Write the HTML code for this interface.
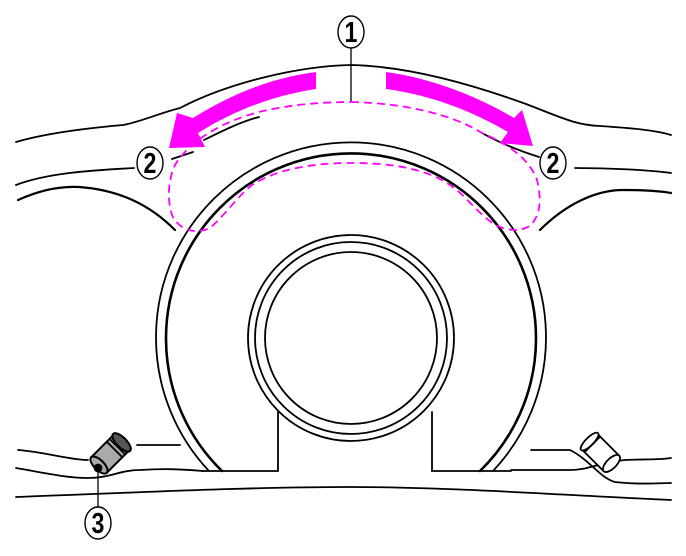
<!DOCTYPE html>
<html><head><style>html,body{margin:0;padding:0;background:#fff}svg{display:block}</style></head><body>
<svg width="686" height="556" viewBox="0 0 686 556" xmlns="http://www.w3.org/2000/svg">
<g fill="none" stroke="#000" stroke-width="1.8" stroke-linecap="round">
<path d="M16,142 C50,132 100,127 123,125 C140,122 160,113 180,108 C230,82 300,66 351,65 C400,66 460,80 526,104 C560,117 575,125 600,126 C630,128 655,130 671,135"/>
<path d="M16,185 C50,172 100,170 134,168"/>
<path d="M172,159 L193,152"/>
<path d="M204,140 C220,132 240,122 259,117"/>
<path d="M482,133 C500,143 520,151 539,157"/>
<path d="M575,168 C610,168 650,170 671,173"/>
<path d="M18,200 C40,190 60,186 79,187 C120,190 150,205 175,230" stroke-width="2.2"/>
<path d="M540,230 C565,205 595,190 623,190 C645,190 660,191 671,193" stroke-width="2.2"/>
<path d="M209,471 A195,195 0 1 1 493,471" stroke-width="1.8"/>
<path d="M222,471 A185,185 0 1 1 480,471" stroke-width="2.6"/>
<circle cx="351" cy="338" r="103"/>
<circle cx="351" cy="338" r="96"/>
<circle cx="351" cy="338" r="86"/>
<path d="M278,412 L278,471 L202,471"/>
<path d="M432,412 L432,471 L511,471"/>
<path d="M16,497 C150,492 250,487 351,487 C450,487 560,495 671,500"/>
<path d="M16,468 C40,472 65,478 88,478 C110,478 120,470 140,470 C170,468 190,470 203,471"/>
<path d="M18,450 C45,452 70,460 88,460"/>
<path d="M137,445 L180,445"/>
<path d="M531,450 L570,450 C590,460 600,478 615,482 C640,485 660,483 671,483"/>
<path d="M511,470 L570,470 C590,470 600,462 625,460 C645,459 660,460 671,458"/>
<g transform="translate(603,455) rotate(45)">
<rect x="-19" y="-11" width="31" height="22" fill="#fff"/>
<ellipse cx="-19" cy="0" rx="4" ry="12" fill="#fff"/>
<path d="M-15,-11 L-15,11"/>
<ellipse cx="12" cy="0" rx="5" ry="11" fill="#fff"/>
</g>
<g transform="translate(111,453) rotate(-45)">
<rect x="-17" y="-11" width="32" height="22" fill="#aaa" stroke-width="2"/>
<ellipse cx="15" cy="0" rx="5" ry="12" fill="#555" stroke-width="2"/>
<path d="M5,-11 L5,11 M9,-11 L9,11"/>
<ellipse cx="-17" cy="0" rx="5" ry="11" fill="#aaa" stroke-width="2"/>
</g>
<circle cx="98" cy="468" r="3.5" fill="#000"/>
<path d="M351,46 L351,101" stroke-width="1.3"/>
<path d="M98,471 L98,508" stroke-width="1.3"/>
</g>
<g fill="#ff00ff">
<path d="M316,72 C270,78 230,95 193,118 L177,113 L169,148 L205,147 L198,133 C235,110 275,95 316,89 Z"/>
<path d="M386,72 C430,78 475,95 514,118 L522,110 L533,146 L500,143 L508,132 C470,110 430,95 386,89 Z"/>
</g>
<path d="M351,102 C400,103 450,113 482,133 C510,145 530,160 537,180 C542,200 540,215 531,225 C522,232 505,232 491,222 C475,210 465,195 450,185 C425,168 390,163 351,163 C310,163 275,170 252,185 C237,197 225,215 210,228 C197,234 180,232 172,215 C167,200 168,180 175,165 C190,140 225,120 263,111 C290,105 320,102 351,102 Z" fill="none" stroke="#ff00ff" stroke-width="1.8" stroke-dasharray="8,5"/>
<g fill="#fff" stroke="#000" stroke-width="1.4">
<ellipse cx="351" cy="32" rx="13" ry="16"/>
<ellipse cx="150" cy="163" rx="13" ry="16"/>
<ellipse cx="553" cy="163" rx="13" ry="16"/>
<ellipse cx="98" cy="523" rx="13" ry="16"/>
</g>
<g font-family="Liberation Sans, sans-serif" font-size="29" font-weight="bold" text-anchor="middle" fill="#000" transform="scale(0.8,1)">
<text x="438.75" y="42">1</text>
<text x="187.5" y="173">2</text>
<text x="691.25" y="173">2</text>
<text x="122.5" y="533">3</text>
</g>
</svg>
</body></html>
